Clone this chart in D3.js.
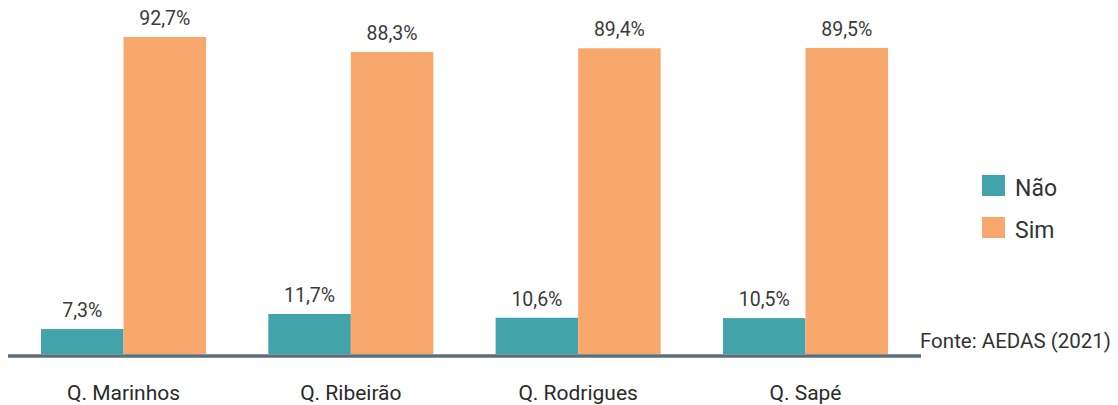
<!DOCTYPE html>
<html>
<head>
<meta charset="utf-8">
<script src="https://cdn.jsdelivr.net/npm/d3@7"></script>
<style>
  html, body { margin: 0; padding: 0; background: #fff; }
  svg { display: block; font-family: Roboto, "Noto Sans", sans-serif; }
</style>
</head>
<body>
<svg id="chart" width="1118" height="405"></svg>
<script>
// Data
const categories = ["Q. Marinhos", "Q. Ribeirão", "Q. Rodrigues", "Q. Sapé"];
const seriesNames = ["Não", "Sim"];
const naoValues = [7.3, 11.7, 10.6, 10.5];
const simValues = [92.7, 88.3, 89.4, 89.5];
const sourceText = "Fonte: AEDAS (2021)";

const colors = { "Não": "#42a3ab", "Sim": "#f8a86d" };
const seriesValues = { "Não": naoValues, "Sim": simValues };

const svg = d3.select("#chart");
const baseline = 354;

const x = d3.scaleBand()
  .domain(categories)
  .range([41, 888])
  .paddingInner(0.274)
  .paddingOuter(0);

const xs = d3.scaleBand()
  .domain(seriesNames)
  .range([0, x.bandwidth()])
  .padding(0);

const y = d3.scaleLinear()
  .domain([0, 100])
  .range([baseline, baseline - 342]);

const fmt = v => v.toFixed(1).replace(".", ",") + "%";

const rows = categories.map((c, i) => ({
  cat: c,
  items: seriesNames.map(s => ({ series: s, value: seriesValues[s][i] }))
}));

const groups = svg.selectAll("g.grp")
  .data(rows)
  .join("g")
  .attr("class", "grp")
  .attr("transform", d => `translate(${x(d.cat)},0)`);

groups.selectAll("rect")
  .data(d => d.items)
  .join("rect")
  .attr("x", d => xs(d.series))
  .attr("y", d => y(d.value))
  .attr("width", xs.bandwidth())
  .attr("height", d => y(0) - y(d.value))
  .attr("fill", d => colors[d.series]);

groups.selectAll("text.val")
  .data(d => d.items)
  .join("text")
  .attr("class", "val")
  .attr("x", d => xs(d.series) + xs.bandwidth() / 2)
  .attr("y", d => y(d.value) - 12)
  .attr("text-anchor", "middle")
  .attr("font-size", 19.5)
  .attr("fill", "#3a3a3a")
  .text(d => fmt(d.value));

// Baseline
svg.append("line")
  .attr("x1", 8).attr("x2", 921)
  .attr("y1", baseline + 2).attr("y2", baseline + 2)
  .attr("stroke", "#5b6f7b")
  .attr("stroke-width", 3.5);

// Category labels along the bottom edge
svg.selectAll("text.cat")
  .data(categories)
  .join("text")
  .attr("class", "cat")
  .attr("x", d => x(d) + x.bandwidth() / 2)
  .attr("y", 400)
  .attr("text-anchor", "middle")
  .attr("font-size", 21)
  .attr("fill", "#2a2a2a")
  .text(d => d);

// Source
svg.append("text")
  .attr("x", 920)
  .attr("y", 348)
  .attr("font-size", 20.5)
  .attr("fill", "#333")
  .text(sourceText);

// Legend
const legend = svg.selectAll("g.leg")
  .data(seriesNames)
  .join("g")
  .attr("class", "leg")
  .attr("transform", (d, i) => `translate(982,${175 + i * 42})`);

legend.append("rect")
  .attr("width", 23).attr("height", 21)
  .attr("fill", d => colors[d]);

legend.append("text")
  .attr("x", 33)
  .attr("y", 21)
  .attr("font-size", 23)
  .attr("fill", "#333")
  .text(d => d);
</script>
</body>
</html>
